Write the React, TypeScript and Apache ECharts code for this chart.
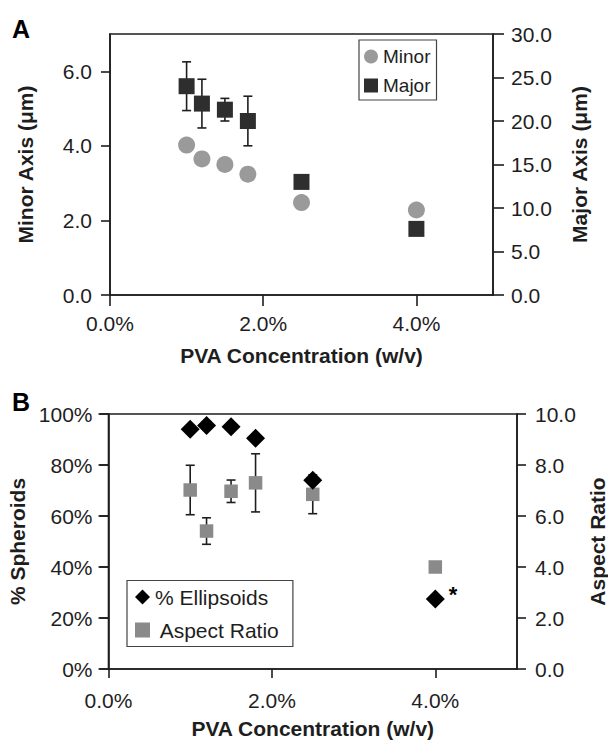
import React, { useEffect, useRef } from "react";
import * as echarts from "echarts";

// ---- Data ----
const pvaConc = [1.0, 1.2, 1.5, 1.8, 2.5, 4.0]; // PVA concentration (% w/v)

// Panel A
const minorAxis = [4.02, 3.65, 3.5, 3.24, 2.48, 2.28]; // µm (left axis)
const majorAxis = [24.0, 22.0, 21.3, 20.0, 13.0, 7.6]; // µm (right axis)
const majorErr = [2.8, 2.8, 1.3, 2.85, 0, 0];

// Panel B
const pctEllipsoids = [94, 95.5, 95, 90.5, 74, 27.5]; // % (left axis)
const aspectRatio = [7.02, 5.41, 6.97, 7.3, 6.85, 4.0]; // (right axis)
const aspectErr = [0.97, 0.52, 0.44, 1.14, 0.76, 0];

const xTicks = [0, 2, 4];
const minorTicks = [0, 2, 4, 6];

const FONT = "Liberation Sans, Arial, Helvetica, sans-serif";
const INK = "#1e1e1e";

function errData(vals: number[], errs: number[]) {
  const out: number[][] = [];
  vals.forEach((v, i) => {
    if (errs[i] > 0) out.push([pvaConc[i], v - errs[i], v + errs[i]]);
  });
  return out;
}

function errorBarSeries(xi: number, yi: number, data: number[][], z: number) {
  return {
    type: "custom",
    xAxisIndex: xi,
    yAxisIndex: yi,
    z,
    silent: true,
    encode: { x: 0, y: [1, 2] },
    data,
    renderItem: (_params: any, api: any) => {
      const x = api.value(0);
      const lo = api.coord([x, api.value(1)]);
      const hi = api.coord([x, api.value(2)]);
      const w = 4.5;
      const st = { stroke: INK, lineWidth: 1.6 };
      return {
        type: "group",
        children: [
          { type: "line", shape: { x1: lo[0], y1: lo[1], x2: hi[0], y2: hi[1] }, style: st },
          { type: "line", shape: { x1: lo[0] - w, y1: lo[1], x2: lo[0] + w, y2: lo[1] }, style: st },
          { type: "line", shape: { x1: hi[0] - w, y1: hi[1], x2: hi[0] + w, y2: hi[1] }, style: st },
        ],
      };
    },
  };
}

const axisLine = { show: true, lineStyle: { color: INK, width: 1.6 } };
const labelBase = { color: INK, fontSize: 21, fontFamily: FONT };
const nameBase = { color: INK, fontSize: 21, fontWeight: "bold" as const, fontFamily: FONT };

export default function App() {
  const ref = useRef<HTMLDivElement>(null);

  useEffect(() => {
    document.body.style.margin = "0";
    const chart = echarts.init(ref.current!, null, { renderer: "svg" });

    const pctFmt = (v: number) => v.toFixed(1) + "%";
    const oneDec = (v: number) => v.toFixed(1);

    const gridBase = { containLabel: false, outerBoundsMode: "none" };

    const option: any = {
      animation: false,
      backgroundColor: "#ffffff",
      textStyle: { fontFamily: FONT },
      grid: [
        { ...gridBase, left: 110, right: 115, top: 34, height: 261, show: true, borderColor: INK, borderWidth: 1.6 },
        { ...gridBase, left: 108.5, right: 91, top: 414, height: 255, show: true, borderColor: INK, borderWidth: 1.6 },
        { ...gridBase, left: 108.5, right: 91, top: 414, height: 255, show: false },
      ],
      xAxis: [
        {
          gridIndex: 0, type: "value", min: 0, max: 5,
          axisLine,
          axisTick: { show: true, length: 11, lineStyle: { color: INK, width: 1.6 }, customValues: xTicks },
          axisLabel: { ...labelBase, margin: 18, formatter: pctFmt, customValues: xTicks },
          splitLine: { show: false },
          name: "PVA Concentration (w/v)", nameLocation: "middle", nameGap: 50, nameTextStyle: nameBase,
        },
        {
          gridIndex: 1, type: "value", min: 0, max: 5,
          axisLine,
          axisTick: { show: true, length: 9, lineStyle: { color: INK, width: 1.6 }, customValues: xTicks },
          axisLabel: { ...labelBase, margin: 21, formatter: pctFmt, customValues: xTicks },
          splitLine: { show: false },
          name: "PVA Concentration (w/v)", nameLocation: "middle", nameGap: 49, nameTextStyle: nameBase,
        },
        { gridIndex: 2, type: "value", min: 0, max: 5, show: false },
      ],
      yAxis: [
        {
          gridIndex: 0, type: "value", position: "left", min: 0, max: 7,
          axisLine,
          axisTick: { show: true, length: 9, lineStyle: { color: INK, width: 1.6 }, customValues: minorTicks },
          axisLabel: { ...labelBase, margin: 18, formatter: oneDec, customValues: minorTicks },
          splitLine: { show: false },
          name: "Minor Axis (\u03bcm)", nameLocation: "middle", nameGap: 74, nameRotate: 90, nameTextStyle: nameBase,
        },
        {
          gridIndex: 0, type: "value", position: "right", min: 0, max: 30, interval: 5,
          axisLine,
          axisTick: { show: true, length: 11, lineStyle: { color: INK, width: 1.6 } },
          axisLabel: { ...labelBase, margin: 18, formatter: oneDec },
          splitLine: { show: false },
          name: "Major Axis (\u03bcm)", nameLocation: "middle", nameGap: 76, nameRotate: 90, nameTextStyle: nameBase,
        },
        {
          gridIndex: 1, type: "value", position: "left", min: 0, max: 100, interval: 20,
          axisLine,
          axisTick: { show: true, length: 9, lineStyle: { color: INK, width: 1.6 } },
          axisLabel: { ...labelBase, margin: 16, formatter: (v: number) => v + "%" },
          splitLine: { show: false },
          name: "% Spheroids", nameLocation: "middle", nameGap: 73, nameRotate: 90, nameTextStyle: nameBase,
        },
        {
          gridIndex: 1, type: "value", position: "right", min: 0, max: 10, interval: 2,
          axisLine,
          axisTick: { show: true, length: 9, lineStyle: { color: INK, width: 1.6 } },
          axisLabel: { ...labelBase, margin: 18, formatter: oneDec },
          splitLine: { show: false },
          name: "Aspect Ratio", nameLocation: "middle", nameGap: 70, nameRotate: 90, nameTextStyle: nameBase,
        },
        {
          gridIndex: 2, type: "value", position: "right", min: 0, max: 10, interval: 2,
          axisLine: { show: false },
          axisTick: { show: true, inside: true, length: 10, lineStyle: { color: INK, width: 1.6 } },
          axisLabel: { show: false },
          splitLine: { show: false },
        },
      ],
      legend: [
        {
          data: [
            { name: "Minor", icon: "circle" },
            { name: "Major", icon: "rect" },
          ],
          orient: "vertical",
          left: 359, top: 40,
          padding: [7, 6, 5, 5],
          itemWidth: 14, itemHeight: 14, itemGap: 10, itemTextGap: 8,
          borderColor: "#444", borderWidth: 1.2,
          textStyle: { color: INK, fontSize: 19, fontFamily: FONT },
        },
        {
          data: [
            { name: "% Ellipsoids", icon: "diamond" },
            { name: "Aspect Ratio", icon: "rect" },
          ],
          orient: "vertical",
          left: 127, top: 580.5,
          padding: [6, 13, 6, 8],
          itemWidth: 15, itemHeight: 15, itemGap: 12, itemTextGap: 6,
          borderColor: "#444", borderWidth: 1.2,
          formatter: (name: string) => (name === "Aspect Ratio" ? " " + name : name),
          textStyle: { color: INK, fontSize: 21, fontFamily: FONT },
        },
      ],
      graphic: [
        { type: "text", left: 12, top: 16, style: { text: "A", fontSize: 25, fontWeight: "bold", fontFamily: FONT, fill: "#000" } },
        { type: "text", left: 12, top: 389, style: { text: "B", fontSize: 25, fontWeight: "bold", fontFamily: FONT, fill: "#000" } },
      ],
      series: [
        errorBarSeries(0, 1, errData(majorAxis, majorErr), 2),
        {
          name: "Minor", type: "scatter", xAxisIndex: 0, yAxisIndex: 0,
          symbol: "circle", symbolSize: 17, z: 3,
          itemStyle: { color: "#9a9a9a", opacity: 1 },
          data: pvaConc.map((x, i) => [x, minorAxis[i]]),
        },
        {
          name: "Major", type: "scatter", xAxisIndex: 0, yAxisIndex: 1,
          symbol: "rect", symbolSize: 16, z: 4,
          itemStyle: { color: "#2e2e2e", opacity: 1 },
          data: pvaConc.map((x, i) => [x, majorAxis[i]]),
        },
        errorBarSeries(1, 3, errData(aspectRatio, aspectErr), 2),
        {
          name: "Aspect Ratio", type: "scatter", xAxisIndex: 1, yAxisIndex: 3,
          symbol: "rect", symbolSize: 13.5, z: 3,
          itemStyle: { color: "#8a8a8a", opacity: 1 },
          data: pvaConc.map((x, i) => [x, aspectRatio[i]]),
        },
        {
          name: "% Ellipsoids", type: "scatter", xAxisIndex: 1, yAxisIndex: 2,
          symbol: "diamond", symbolSize: 19, z: 5,
          itemStyle: { color: "#000000", opacity: 1 },
          data: pvaConc.map((x, i) =>
            i === pvaConc.length - 1
              ? {
                  value: [x, pctEllipsoids[i]],
                  label: {
                    show: true, formatter: "*", position: "right", distance: 4, offset: [0, -4],
                    fontSize: 22, fontWeight: "bold", color: "#000", fontFamily: FONT,
                  },
                }
              : [x, pctEllipsoids[i]]
          ),
        },
      ],
    };

    chart.setOption(option);
    return () => chart.dispose();
  }, []);

  return <div ref={ref} style={{ width: 608, height: 740 }} />;
}
